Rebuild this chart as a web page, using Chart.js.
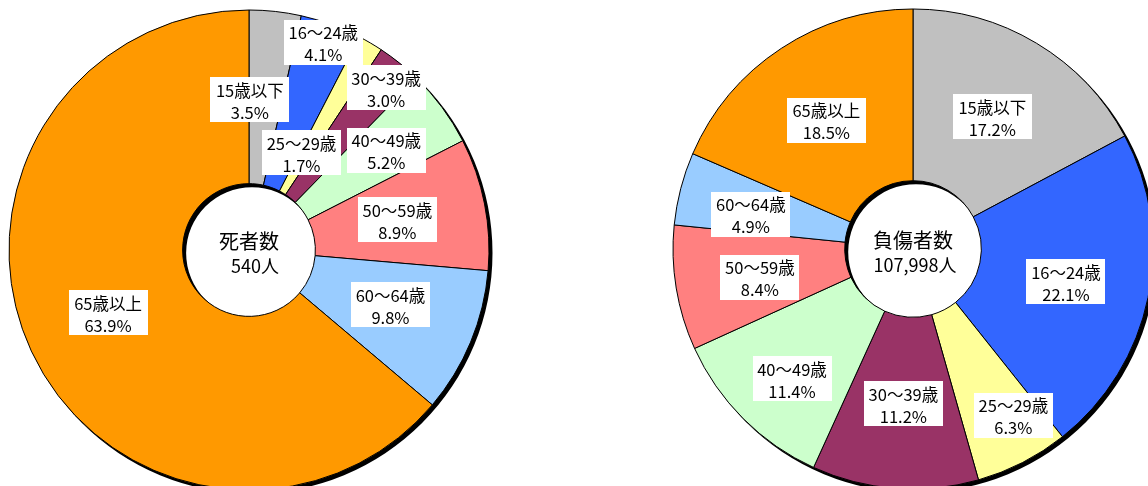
<!DOCTYPE html>
<html lang="ja">
<head>
<meta charset="utf-8">
<script src="https://cdn.jsdelivr.net/npm/chart.js@4/dist/chart.umd.min.js"></script>
<style>
  html, body { margin: 0; padding: 0; background: #fff; width: 1148px; height: 486px; overflow: hidden; position: relative; }
  .wrap { position: absolute; width: 500px; height: 500px; }
  #w1 { left: -1px; top: 0px; }
  #w2 { left: 663px; top: -1px; }
</style>
</head>
<body>
<div class="wrap" id="w1"><canvas id="c1" width="500" height="500"></canvas></div>
<div class="wrap" id="w2"><canvas id="c2" width="500" height="500"></canvas></div>
<script>
// ---- data ----
const categories = ['15歳以下', '16～24歳', '25～29歳', '30～39歳', '40～49歳', '50～59歳', '60～64歳', '65歳以上'];
const deathsPct = [3.5, 4.1, 1.7, 3.0, 5.2, 8.9, 9.8, 63.9];
const injuredPct = [17.2, 22.1, 6.3, 11.2, 11.4, 8.4, 4.9, 18.5];
const deathsLabels = ['3.5%', '4.1%', '1.7%', '3.0%', '5.2%', '8.9%', '9.8%', '63.9%'];
const injuredLabels = ['17.2%', '22.1%', '6.3%', '11.2%', '11.4%', '8.4%', '4.9%', '18.5%'];
const deathsCenter = ['死者数', '540人'];
const injuredCenter = ['負傷者数', '107,998人'];

// ---- styles ----
const sliceColors = ['#C0C0C0', '#3366FF', '#FFFF99', '#993366', '#CCFFCC', '#FF8080', '#99CCFF', '#FF9900'];
const FONT = '"Noto Sans CJK JP", "Noto Sans", sans-serif';

const ringShadow = {
  id: 'ringShadow',
  beforeDatasetsDraw(chart, args, opts) {
    const arc = chart.getDatasetMeta(0).data[0];
    if (!arc) return;
    const p = arc.getProps(['x', 'y', 'outerRadius', 'innerRadius'], true);
    const ctx = chart.ctx;
    ctx.save();
    ctx.fillStyle = '#000';
    ctx.beginPath();
    ctx.arc(p.x + opts.dx, p.y + opts.dy, p.outerRadius + 0.5, 0, Math.PI * 2);
    ctx.arc(p.x + opts.dx, p.y + opts.dy, Math.max(p.innerRadius - 0.5, 0), 0, Math.PI * 2, true);
    ctx.fill('evenodd');
    ctx.restore();
  }
};

const sliceLabels = {
  id: 'sliceLabels',
  afterDatasetsDraw(chart, args, opts) {
    const ctx = chart.ctx;
    const meta = chart.getDatasetMeta(0);
    ctx.save();
    meta.data.forEach((arc, i) => {
      const c = arc.getCenterPoint();
      const n = (opts.nudge && opts.nudge[i]) || [0, 0];
      const x = c.x + n[0], y = c.y + n[1];
      const w = 79, h = 45;
      ctx.fillStyle = '#fff';
      ctx.fillRect(Math.round(x - w / 2), Math.round(y - h / 2), w, h);
      ctx.fillStyle = '#000';
      ctx.font = '16.5px ' + FONT;
      ctx.textAlign = 'center';
      ctx.textBaseline = 'middle';
      ctx.fillText(chart.data.labels[i], x, y - 9);
      ctx.fillText(opts.pct[i], x, y + 13);
    });
    // centre text
    const a = meta.data[0];
    const p = a.getProps(['x', 'y'], true);
    ctx.fillStyle = '#000';
    ctx.textAlign = 'center';
    ctx.textBaseline = 'middle';
    ctx.font = '20px ' + FONT;
    ctx.fillText(opts.center[0], p.x, p.y - 9);
    ctx.font = '18px ' + FONT;
    ctx.fillText(opts.center[1], p.x + opts.centerShift, p.y + 16);
    ctx.restore();
  }
};

function makeChart(id, values, pct, center, radius, cutout, nudge, centerShift) {
  return new Chart(document.getElementById(id), {
    type: 'doughnut',
    data: {
      labels: categories,
      datasets: [{
        data: values,
        backgroundColor: sliceColors,
        borderColor: '#000',
        borderWidth: 1,
        borderAlign: 'center'
      }]
    },
    options: {
      responsive: false,
      animation: false,
      radius: radius,
      cutout: cutout,
      layout: { padding: 0 },
      plugins: {
        legend: { display: false },
        tooltip: { enabled: false },
        ringShadow: { dx: 3, dy: 3 },
        sliceLabels: { pct: pct, center: center, nudge: nudge, centerShift: centerShift }
      }
    },
    plugins: [ringShadow, sliceLabels]
  });
}

makeChart('c1', deathsPct, deathsLabels, deathsCenter, 240, 69,
  [[-16, 2], [22, -64], [-25, 35], [41, -43], [14, -9], [-2, -1], [0, -4], [-2, -2]], 6);
makeChart('c2', injuredPct, injuredLabels, injuredCenter, 240, 71,
  [[0, 0], [2, 1], [30, 29], [2, 1], [-12, 21], [-1, 3], [-13, 4], [-2, 0]], 2);
</script>
</body>
</html>
